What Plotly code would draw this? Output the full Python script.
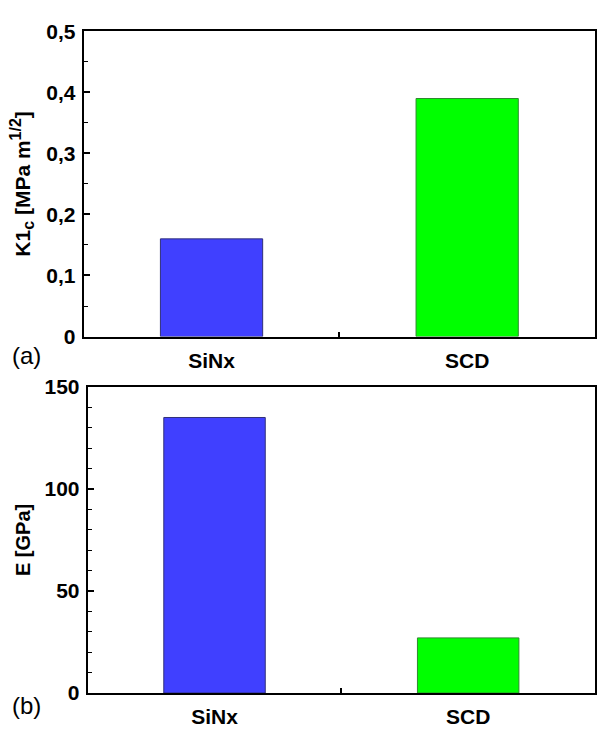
import plotly.graph_objects as go

categories = ["SiNx", "SCD"]
k1c_values = [0.16, 0.39]
e_values = [135, 27]
bar_colors = ["#4040ff", "#00ff00"]
line_colors = ["#30307a", "#2f8a2f"]

W, H = 597, 735
fig = go.Figure()

fig.add_trace(go.Bar(x=categories, y=k1c_values, marker=dict(color=bar_colors, line=dict(color=line_colors, width=1)),
                     width=0.4, xaxis="x", yaxis="y", showlegend=False))
fig.add_trace(go.Bar(x=categories, y=e_values, marker=dict(color=bar_colors, line=dict(color=line_colors, width=1)),
                     width=0.4, xaxis="x2", yaxis="y2", showlegend=False))

FAM = "Liberation Sans, Arial, sans-serif"
bold = dict(family=FAM, size=20, color="black", weight="bold")
tickfont = dict(family=FAM, size=21, color="black", weight="bold")

xcommon = dict(type="category", range=[-0.5, 1.5], showline=True, linecolor="black", linewidth=2,
               mirror=True, ticks="inside", tickson="boundaries", ticklen=5, tickwidth=1.5,
               tickcolor="black", tickfont=tickfont, showgrid=False, zeroline=False,
               ticklabelstandoff=4, fixedrange=True)
ycommon = dict(showline=True, linecolor="black", linewidth=2, mirror=True, ticks="inside",
               ticklen=6, tickwidth=1.5, tickcolor="black", tickfont=tickfont, showgrid=False,
               zeroline=False, ticklabelstandoff=2)

k1c_title = ("K1<sub><span style='font-size:16px'>c</span></sub> [MPa m"
             "<sup><span style='font-size:16px'>1/2</span></sup>]")

fig.update_layout(
    width=W, height=H, margin=dict(l=0, r=0, t=0, b=0),
    paper_bgcolor="white", plot_bgcolor="white", separators=",.",
    xaxis=dict(xcommon, domain=[84 / W, 1.0], anchor="y"),
    yaxis=dict(ycommon, domain=[(H - 335) / H, (H - 20) / H], anchor="x",
               range=[0, 0.5], tickvals=[0, 0.1, 0.2, 0.3, 0.4, 0.5],
               minor=dict(ticks="inside", ticklen=4, tickwidth=1.2, tickcolor="black", dtick=0.05),
               title=dict(text=k1c_title, font=dict(bold, size=21), standoff=10)),
    xaxis2=dict(xcommon, domain=[88 / W, 1.0], anchor="y2"),
    yaxis2=dict(ycommon, domain=[(H - 703) / H, (H - 387) / H], anchor="x2",
                range=[0, 150], tickvals=[0, 50, 100, 150],
                minor=dict(ticks="inside", ticklen=4, tickwidth=1.2, tickcolor="black", dtick=10),
                title=dict(text="E [GPa]", font=bold, standoff=8)),
    annotations=[
        dict(text="(a)", x=10 / W, y=(H - 355) / H, xref="paper", yref="paper", xanchor="left",
             yanchor="middle", showarrow=False, font=dict(family=FAM, size=24, color="black")),
        dict(text="(b)", x=10 / W, y=(H - 716) / H, xref="paper", yref="paper", xanchor="left",
             yanchor="middle", showarrow=False, font=dict(family=FAM, size=24, color="black")),
    ],
)

fig.write_html("out.html")
